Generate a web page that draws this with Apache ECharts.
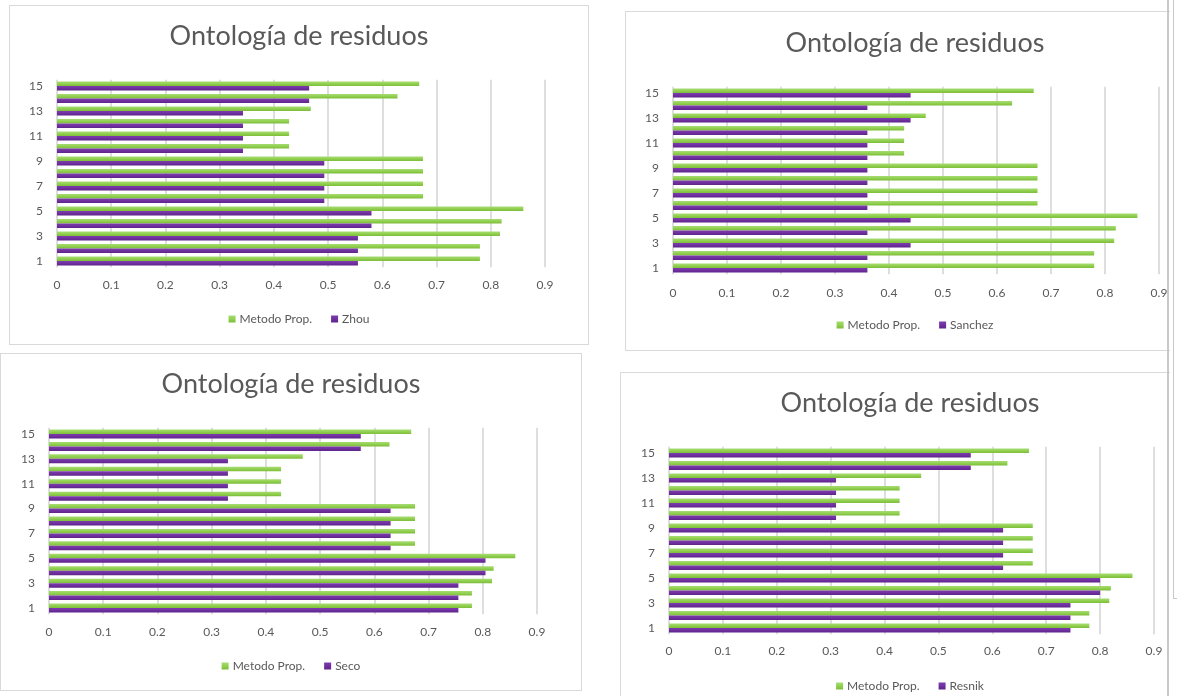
<!DOCTYPE html>
<html>
<head>
<meta charset="utf-8">
<script src="https://cdn.jsdelivr.net/npm/echarts@6/dist/echarts.min.js"></script>
<style>
  html, body { margin: 0; padding: 0; background: #fff; width: 1177px; height: 696px; overflow: hidden; position: relative; }
  .panel { position: absolute; overflow: hidden; border: 1px solid #d9d9d9; box-sizing: border-box; background: #fff; }
  .panel.cut { border-right: none; }
  .chart { position: absolute; left: -1px; top: -1px; }
  .sep { position: absolute; background: #c8c8c8; }
</style>
</head>
<body>
<div class="panel" id="p1"><div class="chart" id="c1"></div></div>
<div class="panel cut" id="p2"><div class="chart" id="c2"></div></div>
<div class="panel" id="p3"><div class="chart" id="c3"></div></div>
<div class="panel cut" id="p4"><div class="chart" id="c4"></div></div>
<div class="sep" style="left:1167px;top:0;width:2px;height:696px"></div>
<div class="sep" style="left:1173px;top:0;width:1px;height:598px"></div>
<div class="sep" style="left:1173px;top:598px;width:4px;height:1px"></div>
<script>
// Residue ontology similarity scores per query (1..15)
const categories = ['1','2','3','4','5','6','7','8','9','10','11','12','13','14','15'];
const metodoProp = [0.78, 0.78, 0.817, 0.82, 0.86, 0.675, 0.675, 0.675, 0.675, 0.428, 0.428, 0.428, 0.468, 0.628, 0.668];
const zhou       = [0.555, 0.555, 0.555, 0.58, 0.58, 0.493, 0.493, 0.493, 0.493, 0.343, 0.343, 0.343, 0.343, 0.465, 0.465];
const sanchez    = [0.36, 0.36, 0.44, 0.36, 0.44, 0.36, 0.36, 0.36, 0.36, 0.36, 0.36, 0.36, 0.44, 0.36, 0.44];
const seco       = [0.755, 0.755, 0.755, 0.805, 0.805, 0.63, 0.63, 0.63, 0.63, 0.33, 0.33, 0.33, 0.33, 0.575, 0.575];
const resnik     = [0.745, 0.745, 0.745, 0.8, 0.8, 0.62, 0.62, 0.62, 0.62, 0.31, 0.31, 0.31, 0.31, 0.56, 0.56];

const chartTitle = 'Ontología de residuos';
const mainName = 'Metodo Prop.';
const axisMin = 0, axisMax = 0.9, axisStep = 0.1;

const GREEN = new echarts.graphic.LinearGradient(0, 0, 0, 1, [
  { offset: 0, color: '#a6dc74' }, { offset: 0.5, color: '#92d050' }, { offset: 1, color: '#7cbd3a' }
]);
const PURPLE = new echarts.graphic.LinearGradient(0, 0, 0, 1, [
  { offset: 0, color: '#7d3cae' }, { offset: 0.5, color: '#7030a0' }, { offset: 1, color: '#5e248a' }
]);
const FONT = 'Lato, "Open Sans", sans-serif';

// page-space layout for each panel
const panels = [
  { id: 1, box: [9, 5, 580, 340],    chartW: 580, x0: 57,  x9: 545,  cTop: 86,  cBot: 261, titleY: 36,  labelY: 285, legendY: 320, name: 'Zhou',    values: zhou },
  { id: 2, box: [625, 11, 545, 340], chartW: 580, x0: 673, x9: 1159, cTop: 93,  cBot: 268, titleY: 43,  labelY: 293, legendY: 326, name: 'Sanchez', values: sanchez },
  { id: 3, box: [0, 353, 582, 338],  chartW: 582, x0: 49,  x9: 537,  cTop: 434, cBot: 608, titleY: 384, labelY: 632, legendY: 667, name: 'Seco',    values: seco },
  { id: 4, box: [620, 372, 550, 340], chartW: 580, x0: 669, x9: 1154, cTop: 453, cBot: 628, titleY: 403, labelY: 651, legendY: 687, name: 'Resnik',  values: resnik }
];

panels.forEach(p => {
  const [bx, by, bw, bh] = p.box;
  const pd = document.getElementById('p' + p.id);
  pd.style.left = bx + 'px'; pd.style.top = by + 'px';
  pd.style.width = bw + 'px'; pd.style.height = bh + 'px';
  const cd = document.getElementById('c' + p.id);
  cd.style.width = p.chartW + 'px'; cd.style.height = bh + 'px';

  const step = (p.cBot - p.cTop) / (categories.length - 1);
  const gTop = p.cTop - step / 2 - by;
  const gH = step * categories.length;
  const gLeft = p.x0 - bx;
  const gW = p.x9 - p.x0;

  const chart = echarts.init(cd, null, { renderer: 'canvas' });
  chart.setOption({
    animation: false,
    title: {
      text: chartTitle, left: 'center', top: p.titleY - by - 16, padding: 0,
      textStyle: { fontFamily: FONT, fontSize: 27, fontWeight: 'normal', color: '#595959', lineHeight: 32 }
    },
    legend: {
      data: [mainName, p.name], top: p.legendY - by - 7, left: 'center', padding: 0,
      itemWidth: 7, itemHeight: 7, itemGap: 19, icon: 'rect',
      textStyle: { fontFamily: FONT, fontSize: 12, color: '#595959', padding: [0, 0, 0, -1] }
    },
    grid: { left: gLeft, top: gTop, width: gW, height: gH },
    xAxis: {
      type: 'value', min: axisMin, max: axisMax, interval: axisStep,
      axisLine: { show: false }, axisTick: { show: false },
      splitLine: { lineStyle: { color: '#dedede', width: 2 } },
      axisLabel: { margin: p.labelY - (gTop + gH + by) - 6, fontFamily: FONT, fontSize: 12, color: '#595959' }
    },
    yAxis: {
      type: 'category', data: categories,
      axisLine: { show: false }, axisTick: { show: false },
      axisLabel: { interval: 1, margin: 14, fontFamily: FONT, fontSize: 12, color: '#595959' }
    },
    series: [
      { name: mainName, type: 'bar', data: metodoProp, barWidth: 4.5, barGap: '0%',
        itemStyle: { color: GREEN } },
      { name: p.name, type: 'bar', data: p.values, barWidth: 4.5, barGap: '0%',
        itemStyle: { color: PURPLE } }
    ]
  });
});
</script>
</body>
</html>
